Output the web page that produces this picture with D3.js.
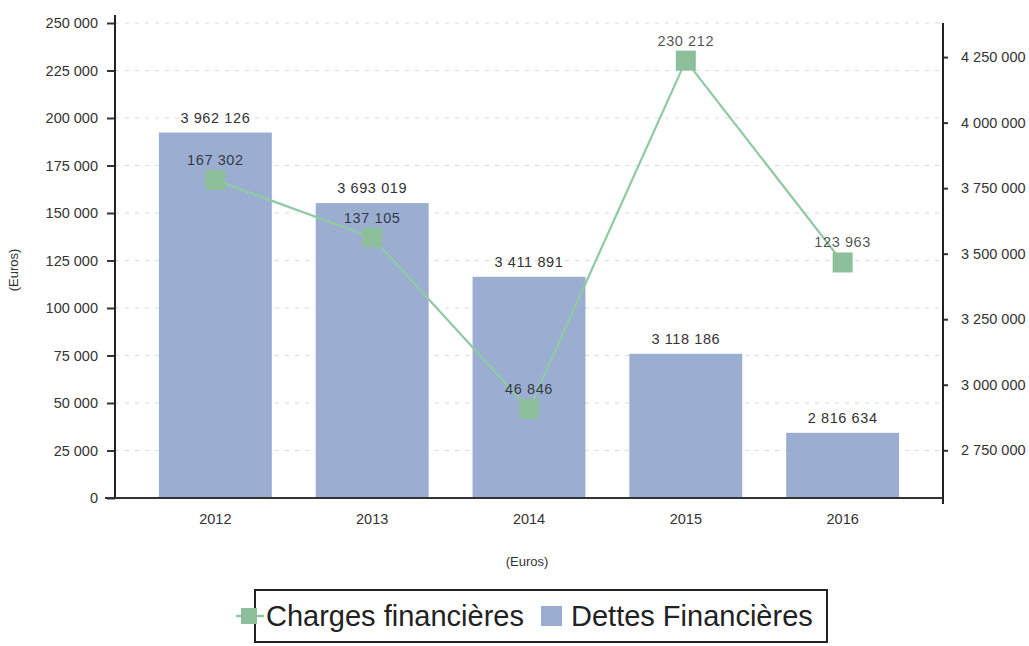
<!DOCTYPE html>
<html><head><meta charset="utf-8">
<script src="https://cdn.jsdelivr.net/npm/d3@7"></script>
<style>body{margin:0;background:#fff}svg{display:block}</style>
</head><body>
<svg id="c" width="1029" height="646"></svg>
<script>
const years = ["2012","2013","2014","2015","2016"];
const dettes = [3962126, 3693019, 3411891, 3118186, 2816634];
const charges = [167302, 137105, 46846, 230212, 123963];
const leftTicks = [0,25000,50000,75000,100000,125000,150000,175000,200000,225000,250000];
const rightTicks = [2750000,3000000,3250000,3500000,3750000,4000000,4250000];
const axisLabel = "(Euros)";
const legendLabels = ["Charges financières","Dettes Financières"];

const barColor = "#9badd0", lineColor = "#8fcaa3", markColor = "#8dbf9a";
const font = "'Liberation Sans', Arial, sans-serif";
const fr = d3.formatLocale({decimal:",", thousands:" ", grouping:[3], currency:["","€"]});
const fmt = fr.format(",");

const svg = d3.select("#c");
const X0 = 115, X1 = 943, Y0 = 498, Y1 = 23;

const x = d3.scaleBand().domain(years).range([X0, X1]).paddingInner(0.28).paddingOuter(0.28);
const yL = d3.scaleLinear().domain([0, 250000]).range([Y0, Y1]);
const yR = d3.scaleLinear().domain([2568000, 4380000]).range([Y0, Y1]);

// grid
svg.append("g").selectAll("line").data(leftTicks.slice(1)).join("line")
  .attr("x1", X0).attr("x2", X1).attr("y1", d=>yL(d)).attr("y2", d=>yL(d))
  .attr("stroke", "#dadada").attr("stroke-dasharray", "4,6").attr("stroke-width", 1);

// bars
svg.append("g").selectAll("rect").data(years).join("rect")
  .attr("x", d=>x(d)).attr("width", x.bandwidth())
  .attr("y", (d,i)=>yR(dettes[i])).attr("height", (d,i)=>Y0 - yR(dettes[i]))
  .attr("fill", barColor);

// bar labels
svg.append("g").selectAll("text").data(years).join("text")
  .attr("x", d=>x(d)+x.bandwidth()/2).attr("y", (d,i)=>yR(dettes[i]) - 10)
  .attr("text-anchor","middle").attr("font-family", font).attr("font-size", 14.5)
  .attr("letter-spacing", 0.6).attr("fill", "#333").text((d,i)=>fmt(dettes[i]));

// line
const line = d3.line().x((d,i)=>x(years[i])+x.bandwidth()/2).y(d=>yL(d));
svg.append("path").datum(charges).attr("d", line).attr("fill","none")
  .attr("stroke", lineColor).attr("stroke-width", 2.2);
svg.append("g").selectAll("rect").data(charges).join("rect")
  .attr("x", (d,i)=>x(years[i])+x.bandwidth()/2 - 10).attr("y", d=>yL(d)-10)
  .attr("width", 20).attr("height", 20).attr("fill", markColor);
svg.append("g").selectAll("text").data(charges).join("text")
  .attr("x", (d,i)=>x(years[i])+x.bandwidth()/2).attr("y", d=>yL(d) - 15)
  .attr("text-anchor","middle").attr("font-family", font).attr("font-size", 14.5)
  .attr("letter-spacing", 0.6).attr("fill", "#000").attr("fill-opacity", 0.7).text(d=>fmt(d));

// left axis
const gL = svg.append("g").attr("transform", `translate(${X0},0)`)
  .call(d3.axisLeft(yL).tickValues(leftTicks).tickFormat(fmt).tickSize(8).tickSizeOuter(0));
gL.select(".domain").remove();
gL.append("line").attr("x1",0).attr("x2",0).attr("y1",15).attr("y2",Y0).attr("stroke","#222").attr("stroke-width",2);
gL.selectAll(".tick line").attr("stroke","#333").attr("stroke-width",2);
gL.selectAll(".tick text").attr("font-family", font).attr("font-size", 14.5).attr("fill","#333").attr("x",-17);

// right axis
const gR = svg.append("g").attr("transform", `translate(${X1},0)`)
  .call(d3.axisRight(yR).tickValues(rightTicks).tickFormat(fmt).tickSize(5).tickSizeOuter(0));
gR.select(".domain").remove();
gR.append("line").attr("x1",0).attr("x2",0).attr("y1",Y1).attr("y2",Y0+6).attr("stroke","#222").attr("stroke-width",2);
gR.selectAll(".tick line").attr("stroke","#333").attr("stroke-width",2);
gR.selectAll(".tick text").attr("font-family", font).attr("font-size", 14.5).attr("fill","#333").attr("x",18);

// bottom axis
const gB = svg.append("g").attr("transform", `translate(0,${Y0})`)
  .call(d3.axisBottom(x).tickSize(0));
gB.select(".domain").remove();
gB.append("line").attr("x1",X0-10).attr("x2",X1).attr("y1",0).attr("y2",0).attr("stroke","#333").attr("stroke-width",2);
gB.selectAll(".tick text").attr("font-family", font).attr("font-size", 14.5).attr("fill","#333").attr("dy", 23);

// axis titles
svg.append("text").attr("transform","translate(18,270) rotate(-90)").attr("text-anchor","middle")
  .attr("font-family", font).attr("font-size", 13).attr("fill","#333").text(axisLabel);
svg.append("text").attr("x", 527).attr("y", 566).attr("text-anchor","middle")
  .attr("font-family", font).attr("font-size", 13).attr("fill","#333").text(axisLabel);

// legend
const lg = svg.append("g");
lg.append("rect").attr("x",255).attr("y",590).attr("width",572).attr("height",52)
  .attr("fill","#fff").attr("stroke","#222").attr("stroke-width",2);
lg.append("line").attr("x1",236).attr("x2",264).attr("y1",616).attr("y2",616).attr("stroke",lineColor).attr("stroke-width",2.5);
lg.append("rect").attr("x",241).attr("y",608).attr("width",16).attr("height",16).attr("fill",markColor);
lg.append("text").attr("x",266).attr("y",626).attr("font-family",font).attr("font-size",29).attr("fill","#222").text(legendLabels[0]);
lg.append("rect").attr("x",541).attr("y",606).attr("width",21).attr("height",20).attr("fill",barColor);
lg.append("text").attr("x",571).attr("y",626).attr("font-family",font).attr("font-size",29).attr("fill","#222").text(legendLabels[1]);
</script>
</body></html>
